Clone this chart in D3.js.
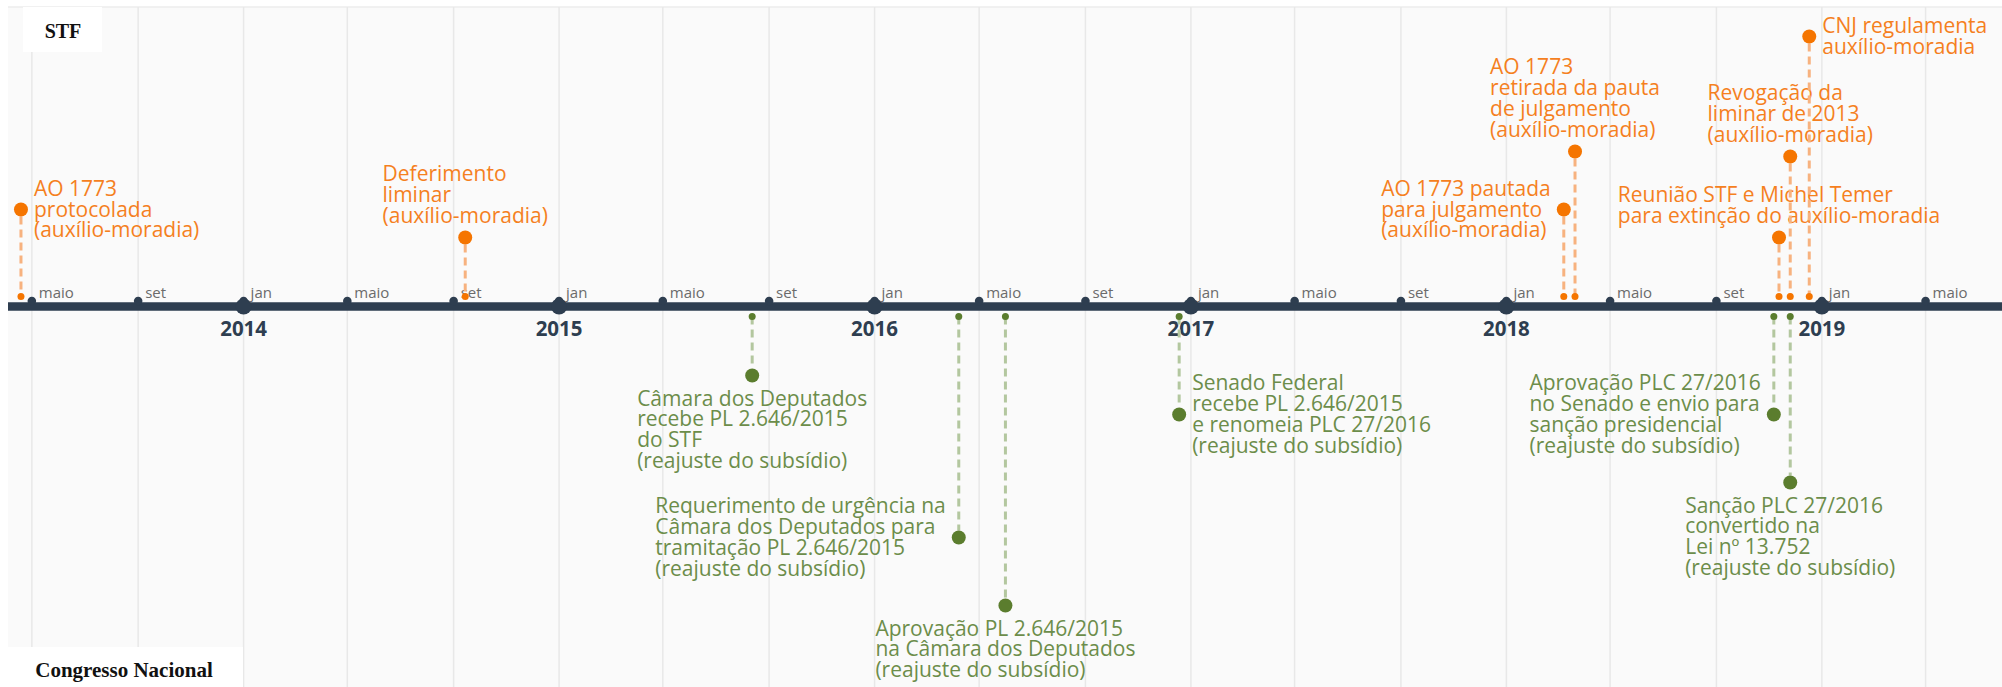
<!DOCTYPE html>
<html>
<head>
<meta charset="utf-8">
<script src="https://cdn.jsdelivr.net/npm/d3@7"></script>
<style>
  html, body { margin: 0; padding: 0; background: #ffffff; }
  svg { display: block; }
</style>
</head>
<body>
<svg id="chart" width="2002" height="687"></svg>
<script>
// ---------------- DATA ----------------
const monthNames = ["jan","fev","mar","abr","maio","jun","jul","ago","set","out","nov","dez"];
const groupLabels = ["STF", "Congresso Nacional"];

// STF events (above the axis)
const stfDates = ["2013-04-19","2014-09-15","2018-03-09","2018-03-22","2018-11-13","2018-11-26","2018-12-18"];
const stfTexts = [
  ["AO 1773","protocolada","(auxílio-moradia)"],
  ["Deferimento","liminar","(auxílio-moradia)"],
  ["AO 1773 pautada","para julgamento","(auxílio-moradia)"],
  ["AO 1773","retirada da pauta","de julgamento","(auxílio-moradia)"],
  ["Reunião STF e Michel Temer","para extinção do auxílio-moradia"],
  ["Revogação da","liminar de 2013","(auxílio-moradia)"],
  ["CNJ regulamenta","auxílio-moradia"]
];
const stfLevels = [97, 69, 97, 155, 69, 150, 270];
const stfSides = ["right","above","left","above","above","above","right"];

// Congresso Nacional events (below the axis)
const cnDates = ["2015-08-13","2016-04-08","2016-06-01","2016-12-19","2018-11-07","2018-11-26"];
const cnTexts = [
  ["Câmara dos Deputados","recebe PL 2.646/2015","do STF","(reajuste do subsídio)"],
  ["Requerimento de urgência na","Câmara dos Deputados para","tramitação PL 2.646/2015","(reajuste do subsídio)"],
  ["Aprovação PL 2.646/2015","na Câmara dos Deputados","(reajuste do subsídio)"],
  ["Senado Federal","recebe PL 2.646/2015","e renomeia PLC 27/2016","(reajuste do subsídio)"],
  ["Aprovação PLC 27/2016","no Senado e envio para","sanção presidencial","(reajuste do subsídio)"],
  ["Sanção PLC 27/2016","convertido na","Lei nº 13.752","(reajuste do subsídio)"]
];
const cnLevels = [69, 231, 299, 108, 108, 176];
const cnSides = ["below","left","below","right","left","below"];

const domainStart = "2013-04-04";
const domainEnd = "2019-07-29";

// ---------------- LAYOUT ----------------
const W = 2002, H = 687;
const axisY = 306.5;
const panelX = 8, panelY = 7;
const navy = "#2e3e50";
const orange = { dot: "#f57500", text: "#f5801e", stem: "#f7b27f" };
const green = { dot: "#5b7d2e", text: "#6c8d4a", stem: "#b3c79f" };
const lineH = 20.7;

const parse = s => { const [y,m,d] = s.split("-").map(Number); return new Date(y, m-1, d); };

const svg = d3.select("#chart");

const x = d3.scaleTime()
  .domain([parse(domainStart), parse(domainEnd)])
  .range([panelX, W]);

const yUp = d3.scaleLinear().domain([0, 300]).range([axisY, axisY - 300]);
const yDown = d3.scaleLinear().domain([0, 300]).range([axisY, axisY + 300]);

// background panel
svg.append("rect").attr("x", 0).attr("y", 0).attr("width", W).attr("height", H).attr("fill", "#ffffff");
svg.append("rect").attr("x", panelX).attr("y", panelY).attr("width", W - panelX).attr("height", H - panelY)
  .attr("fill", "#fafafa");
svg.append("line").attr("x1", panelX).attr("x2", W).attr("y1", panelY).attr("y2", panelY)
  .attr("stroke", "#ececec").attr("stroke-width", 1.5);

// gridlines
const monthTicks = x.ticks(d3.timeMonth.every(4));
const grid = svg.append("g").attr("transform", `translate(0,${H})`)
  .call(d3.axisTop(x).tickValues(monthTicks).tickSize(H - panelY).tickFormat(""));
grid.select(".domain").remove();
grid.selectAll(".tick line").attr("stroke", "#e8e8e8").attr("stroke-width", 1.5);

// group label boxes
svg.append("rect").attr("x", 23).attr("y", panelY).attr("width", 79).attr("height", 45).attr("fill", "#ffffff");
svg.append("text").attr("x", 63).attr("y", 37.5).attr("text-anchor", "middle")
  .attr("font-family", "Liberation Serif, Times New Roman, serif").attr("font-weight", "bold")
  .attr("font-size", 20).attr("fill", "#111").text(groupLabels[0]);
svg.append("rect").attr("x", 7).attr("y", 647).attr("width", 236).attr("height", 40).attr("fill", "#ffffff");
svg.append("text").attr("x", 124).attr("y", 677).attr("text-anchor", "middle")
  .attr("font-family", "Liberation Serif, Times New Roman, serif").attr("font-weight", "bold")
  .attr("font-size", 21).attr("fill", "#111").text(groupLabels[1]);

// stems + event dots
function drawEvents(dates, levels, texts, sides, col, up) {
  const yS = up ? yUp : yDown;
  const g = svg.append("g");
  dates.forEach((ds, i) => {
    const cx = x(parse(ds));
    const cy = yS(levels[i]);
    const smallY = up ? axisY - 10 : axisY + 10;
    g.append("line").attr("x1", cx).attr("x2", cx)
      .attr("y1", up ? cy + 7 : smallY).attr("y2", up ? smallY : cy - 7)
      .attr("stroke", col.stem).attr("stroke-width", 3).attr("stroke-dasharray", "8,5");
    g.append("circle").attr("cx", cx).attr("cy", smallY).attr("r", 3.5).attr("fill", col.dot);
    g.append("circle").attr("cx", cx).attr("cy", cy).attr("r", 7).attr("fill", col.dot);

    const lines = texts[i];
    const n = lines.length;
    const t = g.append("text")
      .attr("font-family", "Open Sans, sans-serif").attr("font-size", 21).attr("fill", col.text);
    const side = sides[i];
    let baselines;
    if (side === "above") baselines = lines.map((_, k) => cy - 15 - (n - 1 - k) * lineH);
    else if (side === "below") baselines = lines.map((_, k) => cy + 30 + k * lineH);
    else baselines = lines.map((_, k) => cy + 7 + (k - (n - 1) / 2) * lineH);
    const spans = lines.map((ln, k) => t.append("tspan").attr("x", 0).attr("y", baselines[k]).text(ln));
    const width = d3.max(spans, s => s.node().getComputedTextLength());
    let tx;
    if (side === "above" || side === "below") tx = cx - width / 2;
    else if (side === "right") tx = cx + 13;
    else tx = cx - 13 - width;
    spans.forEach(s => s.attr("x", tx));
  });
}

// axis line
svg.append("line").attr("x1", panelX).attr("x2", W).attr("y1", axisY).attr("y2", axisY)
  .attr("stroke", navy).attr("stroke-width", 8.4);

// month tick dots + labels
const monthAxis = svg.append("g").attr("transform", `translate(0,${axisY})`)
  .call(d3.axisTop(x).tickValues(monthTicks).tickSize(0).tickFormat(d => monthNames[d.getMonth()]));
monthAxis.select(".domain").remove();
monthAxis.selectAll(".tick text")
  .attr("text-anchor", "start").attr("x", 7).attr("y", -8.5).attr("dy", 0)
  .attr("font-family", "Open Sans, sans-serif").attr("font-size", 15).attr("fill", "#6b6b6b");
monthAxis.selectAll(".tick").append("circle")
  .attr("cx", 0).attr("cy", -5.5).attr("r", 4.3).attr("fill", navy);

// year ticks
const yearTicks = x.ticks(d3.timeYear.every(1));
const yearAxis = svg.append("g").attr("transform", `translate(0,${axisY})`)
  .call(d3.axisBottom(x).tickValues(yearTicks).tickSize(0).tickFormat(d3.timeFormat("%Y")));
yearAxis.select(".domain").remove();
yearAxis.selectAll(".tick text")
  .attr("y", 29.5).attr("dy", 0)
  .attr("font-family", "Open Sans, sans-serif").attr("font-weight", "bold")
  .attr("font-size", 20.5).attr("fill", navy);
yearAxis.selectAll(".tick").append("circle")
  .attr("cx", 0).attr("cy", 0).attr("r", 8).attr("fill", navy);

drawEvents(stfDates, stfLevels, stfTexts, stfSides, orange, true);
drawEvents(cnDates, cnLevels, cnTexts, cnSides, green, false);
</script>
</body>
</html>
